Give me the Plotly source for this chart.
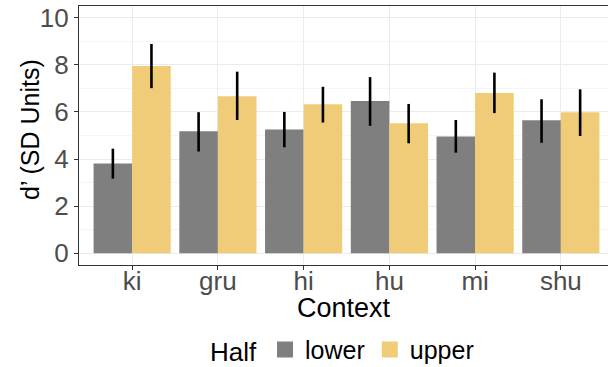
import plotly.graph_objects as go

contexts = ["ki", "gru", "hi", "hu", "mi", "shu"]
lower_vals = [3.81, 5.18, 5.26, 6.46, 4.96, 5.65]
lower_hi = [4.44, 5.99, 6.00, 7.48, 5.66, 6.54]
lower_lo = [3.17, 4.32, 4.50, 5.41, 4.27, 4.69]
upper_vals = [7.95, 6.67, 6.33, 5.52, 6.80, 5.99]
upper_hi = [8.89, 7.71, 7.07, 6.34, 7.67, 6.96]
upper_lo = [7.01, 5.66, 5.55, 4.67, 5.95, 4.98]
y_ticks = [0, 2, 4, 6, 8, 10]

FONT = "Liberation Sans, Arial, sans-serif"
GREY = "#7f7f7f"
GOLD = "#f0cc78"

W, H = 608, 367
L, R, T, B = 79, 0, 6, 102
pw, ph = W - L - R, H - T - B

fig = go.Figure()
for name, vals, hi, lo, col in [("lower", lower_vals, lower_hi, lower_lo, GREY),
                                ("upper", upper_vals, upper_hi, upper_lo, GOLD)]:
    fig.add_trace(go.Bar(
        x=contexts, y=vals, name=name, marker_color=col, marker_line_width=0,
        showlegend=False,
        error_y=dict(type="data", symmetric=False,
                     array=[h - v for h, v in zip(hi, vals)],
                     arrayminus=[v - l for v, l in zip(vals, lo)],
                     color="black", thickness=2.6, width=0),
    ))
    fig.add_trace(go.Scatter(
        x=[None], y=[None], mode="markers", name=name,
        marker=dict(symbol="square", size=19, color=col),
    ))

fig.update_layout(
    width=W, height=H,
    margin=dict(l=L, r=R, t=T, b=B, autoexpand=False),
    plot_bgcolor="white", paper_bgcolor="white",
    barmode="group", bargap=0.1, bargroupgap=0,
    font=dict(family=FONT, color="black"),
    legend=dict(orientation="h", x=0.565, xanchor="center", xref="container",
                y=0.047, yanchor="middle", yref="container",
                title=dict(text="Half", font=dict(size=26, color="black")),
                font=dict(size=25, color="black"), itemsizing="trace",
                itemwidth=30),
    xaxis=dict(
        range=[-0.62, 5.55], automargin=False,
        showgrid=True, gridcolor="#ebebeb", gridwidth=1,
        showline=True, linecolor="#333333", linewidth=1.2, mirror=True,
        ticks="outside", ticklen=4, tickcolor="#333333",
        tickfont=dict(size=26, color="#4d4d4d"),
        ticklabelstandoff=-11,
    ),
    yaxis=dict(
        range=[-0.5, 10.5], automargin=False,
        tickvals=y_ticks,
        showgrid=True, gridcolor="#ebebeb", gridwidth=1,
        minor=dict(dtick=1, showgrid=True, gridcolor="#f5f5f5", gridwidth=1),
        zeroline=False,
        showline=True, linecolor="#333333", linewidth=1.2,
        ticks="outside", ticklen=4, tickcolor="#333333",
        tickfont=dict(size=26, color="#4d4d4d"),
    ),
    annotations=[
        dict(text="Context", xref="paper", yref="paper",
             x=(344 - L) / pw, y=(H - B - 308) / ph, xanchor="center", yanchor="middle",
             showarrow=False, font=dict(size=27, color="black")),
        dict(text="d’ (SD Units)", xref="paper", yref="paper", textangle=-90,
             x=(30 - L) / pw, y=(H - B - 130) / ph, xanchor="center", yanchor="middle",
             showarrow=False, font=dict(size=25, color="black")),
    ],
)

fig.write_html("out.html")
